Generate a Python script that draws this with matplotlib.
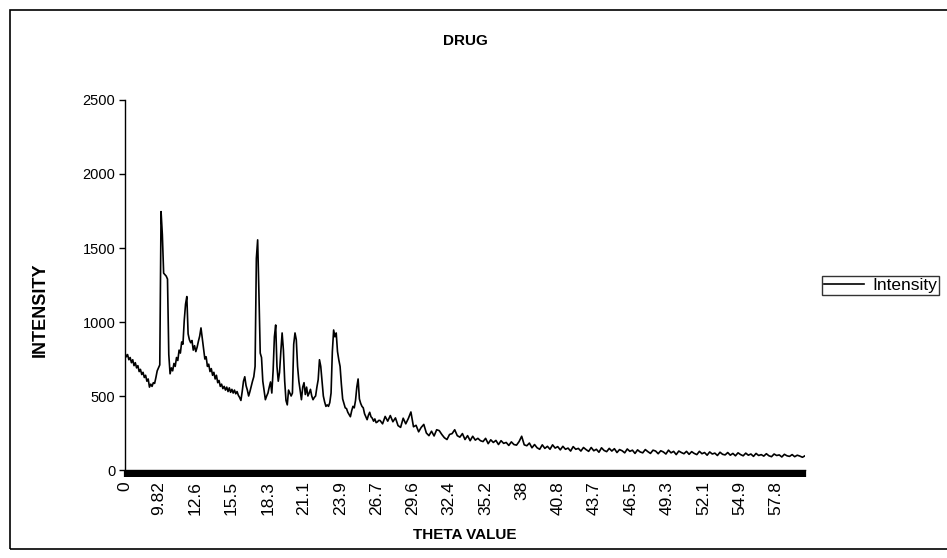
import numpy as np
import matplotlib
matplotlib.use("Agg")
import matplotlib.pyplot as plt
from matplotlib.patches import Rectangle
from matplotlib.ticker import MultipleLocator

plt.rcParams['font.family'] = ['Liberation Sans', 'DejaVu Sans']

# fine scan 7.2 - 26.9 deg, step 0.1
scan_a_start, scan_a_step = 7.2, 0.1
intensity_a = [
    790, 765, 780, 745, 760, 725, 745, 705, 725, 690,
    705, 665, 680, 645, 660, 625, 640, 600, 615, 560,
    580, 565, 590, 585, 625, 670, 690, 710, 1746, 1590,
    1330, 1320, 1310, 1290, 780, 650, 690, 670, 720, 700,
    760, 740, 810, 790, 865, 850, 1010, 1120, 1172, 920,
    880, 860, 875, 810, 840, 800, 830, 870, 905, 960,
    890, 820, 750, 765, 700, 715, 665, 685, 640, 660,
    615, 640, 590, 605, 565, 580, 550, 565, 540, 560,
    530, 555, 525, 545, 520, 540, 515, 530, 505, 490,
    470, 530, 600, 630, 570, 540, 500, 530, 565, 600,
    630, 700, 1430, 1555, 1190, 790, 760, 600, 540, 475,
    500, 520, 560, 595, 520, 670, 900, 980, 700, 600,
    660, 800, 926, 810, 600, 470, 440, 540, 520, 500,
    520, 850, 926, 880, 700, 600, 540, 475, 560, 590,
    510, 560, 500, 520, 545, 500, 475, 490, 500, 560,
    610, 745, 700, 600, 500, 460, 430, 440, 430, 455,
    520, 800, 946, 900, 926, 800, 745, 700, 580, 480,
    450, 420, 415, 390, 375, 360, 400, 430, 420, 470,
    560, 615, 480, 450, 430, 420, 380, 360, 340, 370,
    390, 360, 350, 330, 345, 320, 325, 335,
]

# coarse scan 27.0 - 60.0 deg, step 0.2
scan_b_start, scan_b_step = 27.0, 0.2
intensity_b = [
    335, 312, 362, 330, 368, 326, 352, 300, 288, 350,
    312, 348, 392, 292, 302, 258, 288, 308, 250, 232,
    262, 230, 272, 266, 240, 218, 206, 240, 246, 272,
    232, 222, 246, 206, 232, 198, 228, 202, 214, 198,
    192, 214, 178, 204, 186, 200, 172, 198, 180, 186,
    166, 190, 172, 168, 192, 228, 170, 164, 182, 150,
    172, 150, 140, 170, 146, 160, 140, 170, 148, 158,
    136, 160, 140, 148, 128, 158, 140, 146, 128, 152,
    138, 126, 152, 130, 140, 120, 150, 132, 124, 146,
    128, 144, 118, 138, 130, 116, 142, 126, 134, 112,
    136, 122, 116, 138, 124, 112, 134, 128, 110, 130,
    122, 108, 134, 116, 126, 104, 128, 118, 110, 126,
    106, 124, 112, 104, 126, 110, 118, 100, 122, 108,
    114, 98, 120, 106, 102, 118, 100, 112, 96, 116,
    104, 96, 114, 100, 108, 92, 112, 98, 104, 94,
    110, 96, 90, 108, 98, 102, 88, 106, 96, 92,
    104, 90, 100, 94, 86, 96,
]

tick_pos = [7.2, 9.82, 12.64, 15.46, 18.28, 21.1, 23.92, 26.74, 29.56, 32.38,
            35.2, 38.02, 40.84, 43.66, 46.48, 49.3, 52.12, 54.94, 57.76]
tick_labels = ["0", "9.82", "12.6", "15.5", "18.3", "21.1", "23.9", "26.7", "29.6", "32.4",
               "35.2", "38", "40.8", "43.7", "46.5", "49.3", "52.1", "54.9", "57.8"]

theta = np.concatenate([
    scan_a_start + scan_a_step * np.arange(len(intensity_a)),
    scan_b_start + scan_b_step * np.arange(len(intensity_b)),
])
intensity = np.array(intensity_a + intensity_b)

W, H = 947, 558
fig = plt.figure(figsize=(W / 100, H / 100), dpi=100)

# outer chart frame
fig.patches.append(Rectangle((9.5 / W, 9 / H), 1.0, 539 / H, transform=fig.transFigure,
                             fill=False, edgecolor='black', linewidth=1.2))

ax = fig.add_axes([125 / W, 88 / H, 680 / W, 370 / H])
ax.plot(theta, intensity, color='black', linewidth=1.2, label='Intensity')

ax.set_xlim(7.2, 60.0)
ax.set_ylim(0, 2500)
ax.set_yticks(range(0, 2501, 500))
ax.set_xticks(tick_pos)
ax.set_xticklabels(tick_labels, rotation=90)
ax.xaxis.set_minor_locator(MultipleLocator(0.1))

for s in ['top', 'right']:
    ax.spines[s].set_visible(False)
ax.spines['left'].set_linewidth(1.0)
ax.spines['bottom'].set_linewidth(1.0)

ax.tick_params(axis='y', direction='out', length=4, width=1, labelsize=10.5, pad=3)
ax.tick_params(axis='x', which='both', direction='out', length=5, width=1.6, labelsize=12.5, pad=3)

fig.text(465 / W, 1 - 41 / H, 'DRUG', ha='center', va='center', fontsize=11, fontweight='bold')
fig.text(40 / W, 1 - 310 / H, 'INTENSITY', ha='center', va='center', rotation=90,
         fontsize=13, fontweight='bold')
fig.text(465 / W, 1 - 535 / H, 'THETA VALUE', ha='center', va='center', fontsize=11, fontweight='bold')

leg = fig.legend(loc='upper left', bbox_to_anchor=(822 / W, 1 - 276 / H), frameon=True,
                 fancybox=False, edgecolor='black', fontsize=12.5, handlelength=2.3,
                 borderpad=0.1, handletextpad=0.5, borderaxespad=0)
leg.get_frame().set_linewidth(1.0)

fig.savefig('out.png', dpi=100)
